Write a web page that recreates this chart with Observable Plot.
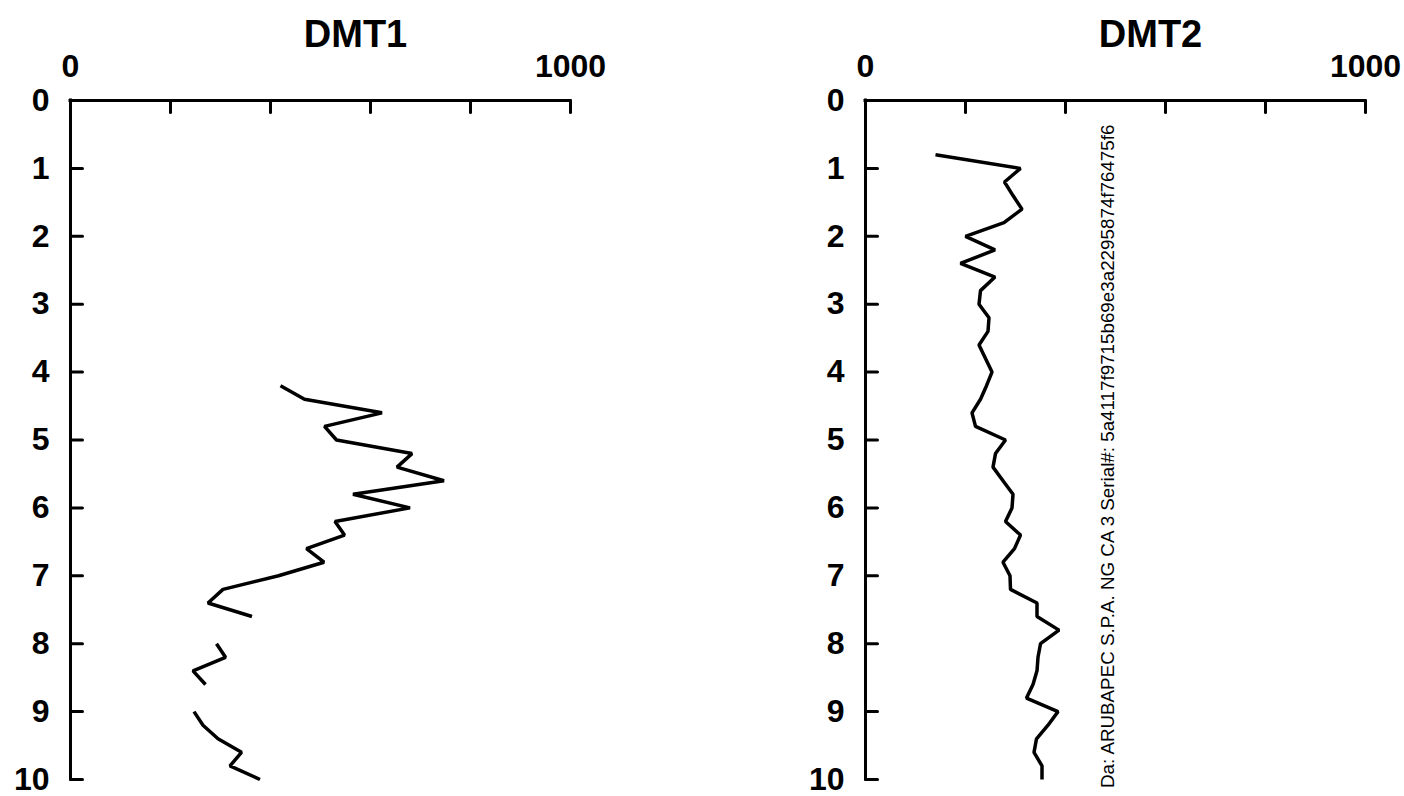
<!DOCTYPE html>
<html><head><meta charset="utf-8">
<script src="https://cdn.jsdelivr.net/npm/d3@7"></script>
<script src="https://cdn.jsdelivr.net/npm/@observablehq/plot@0.6"></script>
<style>
body{margin:0;background:#fff;}
#wrap{position:relative;width:1404px;height:796px;overflow:hidden;background:#fff;font-family:"Liberation Sans",Arial,sans-serif;}
.panel{position:absolute;top:0;}
#wm{position:absolute;left:0;top:0;pointer-events:none;}
</style></head><body><div id="wrap"></div>
<script>
// ---- data ----
const titles = ["DMT1", "DMT2"];
const depthTicks = [0, 1, 2, 3, 4, 5, 6, 7, 8, 9, 10];
const xTicks = [0, 200, 400, 600, 800, 1000];
const xLabels = [0, 1000];
const watermark = "Da: ARUBAPEC S.P.A. NG CA 3 Serial#: 5a4117f9715b69e3a2295874f76475f6";

const dmt1Depth = [4.2, 4.4, 4.6, 4.8, 5.0, 5.2, 5.4, 5.6, 5.8, 6.0, 6.2, 6.4, 6.6, 6.8, 7.0, 7.2, 7.4, 7.6, 7.8,
  8.0, 8.2, 8.4, 8.6, 8.8, 9.0, 9.2, 9.4, 9.6, 9.8, 10.0];
const dmt1Value = [420, 468, 623, 508, 532, 683, 653, 747, 565, 679, 529, 548, 472, 507, 416, 305, 275, 363, null,
  292, 310, 245, 270, null, 247, 265, 295, 342, 319, 379];

const dmt2Depth = [0.8, 1.0, 1.2, 1.4, 1.6, 1.8, 2.0, 2.2, 2.4, 2.6, 2.8, 3.0, 3.2, 3.4, 3.6, 3.8, 4.0, 4.2, 4.4, 4.6,
  4.8, 5.0, 5.2, 5.4, 5.6, 5.8, 6.0, 6.2, 6.4, 6.6, 6.8, 7.0, 7.2, 7.4, 7.6, 7.8, 8.0, 8.2, 8.4, 8.6, 8.8,
  9.0, 9.2, 9.4, 9.6, 9.8, 10.0];
const dmt2Value = [140, 310, 278, 295, 313, 277, 200, 259, 190, 259, 230, 227, 247, 245, 227, 240, 253, 242, 230, 213,
  220, 280, 260, 255, 275, 295, 293, 280, 310, 298, 275, 289, 290, 343, 343, 387, 350, 345, 343, 335, 322,
  385, 365, 342, 337, 353, 353];

// ---- drawing ----
const FONT = '"Liberation Sans", Arial, sans-serif';
const tickShape = {draw(ctx, l) { ctx.moveTo(0, 0); ctx.lineTo(0, -l); }};

function panel(title, depth, value, width, marginRight) {
  const data = depth.map((d, i) => ({depth: d, value: value[i]}));
  return Plot.plot({
    width, height: 796,
    marginTop: 100, marginBottom: 17, marginLeft: 70, marginRight,
    style: {fontFamily: FONT, color: "#000", background: "#fff", overflow: "visible"},
    x: {domain: [0, 1000]},
    y: {domain: [0, 10], reverse: true},
    marks: [
      Plot.axisX(xTicks, {anchor: "top", tickSize: 0, tickPadding: 24,
        tickFormat: d => xLabels.includes(d) ? String(d) : "",
        fontSize: 32, fontWeight: "bold", label: null}),
      Plot.axisY(depthTicks, {anchor: "left", tickSize: 0, tickPadding: 21,
        tickFormat: d => String(d),
        fontSize: 32, fontWeight: "bold", label: null}),
      Plot.ruleY([0], {stroke: "black", strokeWidth: 3, strokeLinecap: "square"}),
      Plot.ruleX([0], {stroke: "black", strokeWidth: 3, strokeLinecap: "square"}),
      Plot.vector(xTicks, {x: d => d, y: () => 0, length: 12, rotate: 180, anchor: "start",
        shape: tickShape, stroke: "black", strokeWidth: 3}),
      Plot.vector(depthTicks, {x: () => 0, y: d => d, length: 12, rotate: 90, anchor: "start",
        shape: tickShape, stroke: "black", strokeWidth: 3}),
      Plot.line(data, {x: "value", y: "depth", stroke: "black", strokeWidth: 3.5,
        strokeLinejoin: "miter", strokeLinecap: "butt"}),
      Plot.text([title], {text: d => d, frameAnchor: "top", lineAnchor: "middle", dx: 35, dy: -66,
        fontSize: 38, fontWeight: "bold", fill: "black"})
    ]
  });
}

const wrap = document.getElementById("wrap");
const p1 = panel(titles[0], dmt1Depth, dmt1Value, 640, 70);
p1.classList.add("panel"); p1.style.left = "0px";
wrap.appendChild(p1);
const p2 = panel(titles[1], dmt2Depth, dmt2Value, 609, 39);
p2.classList.add("panel"); p2.style.left = "795px";
wrap.appendChild(p2);

// watermark (rotated vertical text)
const svg = d3.create("svg").attr("id", "wm").attr("width", 1404).attr("height", 796);
svg.append("text")
  .attr("transform", "translate(1114,788) rotate(-90)")
  .attr("text-anchor", "start")
  .attr("font-family", FONT)
  .attr("font-size", 18.8)
  .attr("fill", "#000")
  .text(watermark);
wrap.appendChild(svg.node());
</script>
</body></html>
